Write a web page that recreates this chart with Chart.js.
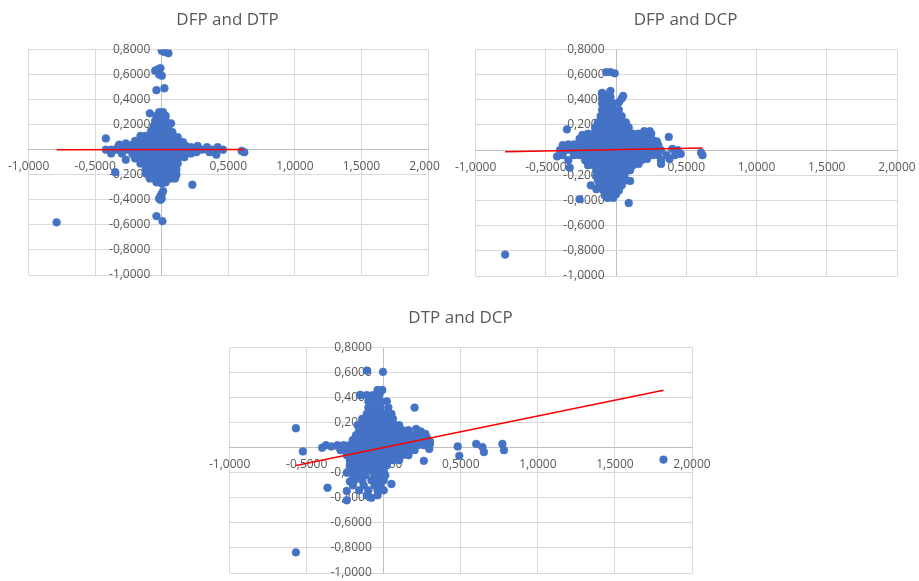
<!DOCTYPE html>
<html>
<head>
<meta charset="utf-8">
<script src="https://cdn.jsdelivr.net/npm/chart.js@4.4.1/dist/chart.umd.min.js"></script>
<style>
  body { margin: 0; background: #fff; width: 919px; height: 581px; position: relative; overflow: hidden; }
  .box { position: absolute; overflow: hidden; }
  canvas { display: block; }
</style>
</head>
<body>
<div class="box" style="left:0;top:0;width:440px;height:295px"><canvas id="c1" width="459" height="295" style="margin-left:-2px"></canvas></div>
<div class="box" style="left:455px;top:0;width:464px;height:296px"><canvas id="c2" width="481" height="296" style="margin-left:-10px"></canvas></div>
<div class="box" style="left:199px;top:300px;width:523px;height:281px"><canvas id="c3" width="523" height="293"></canvas></div>
<script>
const titles = ['DFP and DTP', 'DFP and DCP', 'DTP and DCP'];
const xTicks = [-1, -0.5, 0, 0.5, 1, 1.5, 2];
const yTicks = [-1, -0.8, -0.6, -0.4, -0.2, 0, 0.2, 0.4, 0.6, 0.8];

// DFP (x) vs DTP (y)
const dfpDtp = [
  [-0.79,-0.58],[0.0,0.79],[0.02,0.78],[0.05,0.77],
  [-0.05,0.63],[-0.03,0.64],[-0.01,0.65],[-0.02,0.60],[0.0,0.59],
  [-0.04,0.475],[0.02,0.49],[-0.09,0.29],[-0.42,0.09],[-0.35,-0.18],[0.23,-0.28],
  [0.01,-0.33],[0.0,-0.35],[-0.01,-0.37],[-0.02,-0.39],[-0.01,-0.40],[0.0,-0.39],
  [-0.04,-0.53],[0.005,-0.57],[0.60,-0.01],[0.62,-0.02],
  [-0.27,-0.08],[-0.27,0.05],[0.41,-0.04],
  [-0.02,0.30],[0.01,0.30],
  [-0.04,0.27],[0.0,0.27],[0.03,0.27],
  [-0.05,0.23],[-0.01,0.23],[0.03,0.23],[0.07,0.21],
  [-0.06,0.19],[-0.02,0.19],[0.02,0.19],[0.05,0.18],
  [-0.08,0.15],[-0.04,0.15],[0.0,0.15],[0.04,0.15],[0.08,0.14],
  [-0.16,0.11],[-0.12,0.11],[-0.08,0.11],[-0.04,0.11],[0,0.11],[0.04,0.11],[0.08,0.11],[0.12,0.10],
  [-0.20,0.07],[-0.16,0.07],[-0.12,0.07],[-0.08,0.07],[-0.04,0.07],[0,0.07],[0.04,0.07],[0.08,0.07],[0.12,0.07],[0.16,0.06],
  [-0.32,0.04],[-0.22,0.04],[-0.18,0.035],[-0.14,0.035],[-0.10,0.035],[-0.06,0.035],[-0.02,0.035],[0.02,0.035],
  [0.06,0.035],[0.10,0.035],[0.14,0.035],[0.18,0.03],[0.22,0.02],[0.27,0.03],[0.34,0.02],[0.42,0.02],
  [-0.42,0.0],[-0.38,0.0],[-0.34,0.0],[-0.30,0.0],[-0.26,0.0],[-0.22,0.0],[-0.18,0.0],[-0.14,0.0],[-0.10,0.0],
  [-0.06,0.0],[-0.02,0.0],[0.02,0.0],[0.06,0.0],[0.10,0.0],[0.14,0.0],[0.18,0.0],[0.22,0.0],[0.26,0.0],
  [0.30,0.0],[0.34,0.0],[0.38,0.0],[0.42,0.0],[0.46,0.0],
  [-0.38,-0.03],[-0.30,-0.03],[-0.22,-0.035],[-0.18,-0.035],[-0.14,-0.035],[-0.10,-0.035],[-0.06,-0.035],[-0.02,-0.035],
  [0.02,-0.035],[0.06,-0.035],[0.10,-0.035],[0.14,-0.035],[0.18,-0.03],[0.22,-0.03],[0.26,-0.02],[0.36,-0.02],
  [-0.20,-0.07],[-0.16,-0.07],[-0.12,-0.07],[-0.08,-0.07],[-0.04,-0.07],[0,-0.07],[0.04,-0.07],[0.08,-0.07],[0.12,-0.07],[0.17,-0.06],
  [-0.16,-0.11],[-0.12,-0.11],[-0.08,-0.11],[-0.04,-0.11],[0,-0.11],[0.04,-0.11],[0.08,-0.11],[0.12,-0.11],
  [-0.12,-0.15],[-0.08,-0.15],[-0.04,-0.15],[0,-0.15],[0.04,-0.15],[0.08,-0.15],[0.11,-0.16],
  [-0.12,-0.19],[-0.08,-0.19],[-0.04,-0.19],[0,-0.19],[0.04,-0.19],[0.08,-0.19],[0.11,-0.20],
  [-0.09,-0.23],[-0.05,-0.23],[-0.01,-0.23],[0.03,-0.23],[0.07,-0.23],[0.10,-0.23],
  [-0.04,-0.26],[0.0,-0.27],[0.03,-0.26]
];

// DFP (x) vs DCP (y)
const dfpDcp = [
  [-0.79,-0.83],[-0.07,0.62],[-0.04,0.62],[-0.01,0.61],[-0.26,-0.39],[0.09,-0.42],[-0.35,0.165],
  [0.375,0.105],[0.605,-0.02],[0.615,-0.04],[0.05,0.43],[-0.10,0.455],[-0.04,0.47],[0.20,0.15],[0.24,0.15],
  [-0.42,-0.05],[-0.33,-0.14],[-0.18,-0.28],[-0.14,-0.31],[0.10,-0.245],
  [-0.10,0.45],[-0.07,0.44],
  [-0.10,0.41],[-0.07,0.41],[-0.04,0.42],[0.04,0.41],
  [-0.10,0.37],[-0.06,0.37],[-0.02,0.37],[0.02,0.38],
  [-0.10,0.32],[-0.06,0.32],[-0.02,0.32],[0.02,0.32],
  [-0.11,0.27],[-0.07,0.27],[-0.03,0.27],[0.01,0.27],[0.04,0.27],
  [-0.13,0.22],[-0.09,0.22],[-0.05,0.22],[-0.01,0.22],[0.03,0.22],[0.07,0.22],
  [-0.15,0.18],[-0.11,0.18],[-0.07,0.18],[-0.03,0.18],[0.01,0.18],[0.05,0.18],[0.09,0.18],
  [-0.24,0.12],[-0.20,0.13],[-0.16,0.13],[-0.12,0.13],[-0.08,0.13],[-0.04,0.13],[0,0.13],[0.04,0.13],
  [0.08,0.13],[0.12,0.13],[0.16,0.13],[0.20,0.12],[0.25,0.13],
  [-0.26,0.09],[-0.22,0.09],[-0.18,0.09],[-0.14,0.09],[-0.10,0.09],[-0.06,0.09],[-0.02,0.09],[0.02,0.09],
  [0.06,0.09],[0.10,0.09],[0.14,0.09],[0.18,0.09],[0.22,0.09],[0.26,0.08],[0.29,0.07],
  [-0.38,0.04],[-0.34,0.045],[-0.30,0.045],[-0.26,0.045],[-0.22,0.045],[-0.18,0.045],[-0.14,0.045],[-0.10,0.045],
  [-0.06,0.045],[-0.02,0.045],[0.02,0.045],[0.06,0.045],[0.10,0.045],[0.14,0.045],[0.18,0.045],[0.22,0.045],
  [0.26,0.045],[0.30,0.04],
  [-0.40,0.0],[-0.36,0.0],[-0.32,0.0],[-0.28,0.0],[-0.24,0.0],[-0.20,0.0],[-0.16,0.0],[-0.12,0.0],[-0.08,0.0],
  [-0.04,0.0],[0,0.0],[0.04,0.0],[0.08,0.0],[0.12,0.0],[0.16,0.0],[0.20,0.0],[0.24,0.0],[0.28,0.0],[0.32,0.0],
  [0.40,0.01],[0.44,0.0],
  [-0.38,-0.04],[-0.30,-0.04],[-0.26,-0.04],[-0.22,-0.04],[-0.18,-0.04],[-0.14,-0.04],[-0.10,-0.04],[-0.06,-0.04],
  [-0.02,-0.04],[0.02,-0.04],[0.06,-0.04],[0.10,-0.04],[0.14,-0.04],[0.18,-0.04],[0.22,-0.04],[0.26,-0.04],
  [0.30,-0.04],[0.36,-0.04],[0.42,-0.04],[0.46,-0.03],
  [-0.34,-0.08],[-0.22,-0.08],[-0.18,-0.08],[-0.14,-0.08],[-0.10,-0.08],[-0.06,-0.08],[-0.02,-0.08],[0.02,-0.08],
  [0.06,-0.08],[0.10,-0.08],[0.14,-0.08],[0.18,-0.08],[0.22,-0.07],[0.32,-0.08],[0.38,-0.07],
  [-0.20,-0.12],[-0.16,-0.12],[-0.12,-0.12],[-0.08,-0.12],[-0.04,-0.12],[0,-0.12],[0.04,-0.12],[0.08,-0.12],
  [0.12,-0.12],[0.16,-0.11],[0.32,-0.11],
  [-0.14,-0.16],[-0.10,-0.16],[-0.06,-0.16],[-0.02,-0.16],[0.02,-0.16],[0.06,-0.16],[0.10,-0.16],
  [-0.14,-0.20],[-0.10,-0.20],[-0.06,-0.20],[-0.02,-0.20],[0.02,-0.20],[0.06,-0.20],
  [-0.13,-0.24],[-0.09,-0.24],[-0.05,-0.24],[-0.01,-0.24],[0.03,-0.24],[0.07,-0.24],
  [-0.12,-0.28],[-0.08,-0.28],[-0.04,-0.28],[0,-0.28],[0.04,-0.28],
  [-0.09,-0.32],[-0.05,-0.32],[-0.01,-0.32],[0.02,-0.32],
  [-0.08,-0.36],[-0.04,-0.36],[0.0,-0.35],
  [-0.06,-0.38],[-0.02,-0.38]
];

// DTP (x) vs DCP (y)
const dtpDcp = [
  [-0.57,0.155],[-0.57,-0.835],[-0.525,-0.03],[-0.40,0.0],[-0.375,0.02],[-0.34,0.01],[-0.365,-0.32],
  [-0.24,-0.345],[-0.24,-0.42],[-0.11,0.615],[-0.005,0.605],[0.20,0.32],[0.48,0.01],[0.49,-0.065],
  [0.60,0.03],[0.64,0.005],[0.65,-0.035],[0.77,0.03],[0.78,-0.02],[1.815,-0.095],[0.26,-0.105],
  [0.05,-0.29],[-0.08,-0.40],[0.30,0.03],[0.295,-0.01],[-0.155,0.42],[-0.20,0.06],
  [0.28,0.08],[0.30,0.05],[0.27,0.11],[0.24,0.13],[-0.24,-0.20],[-0.22,-0.27],
  [-0.04,0.46],[-0.01,0.46],
  [-0.15,0.42],[-0.11,0.42],[-0.07,0.42],[-0.03,0.42],
  [-0.10,0.37],[-0.06,0.37],[-0.02,0.37],[0.02,0.37],
  [-0.10,0.32],[-0.06,0.32],[-0.02,0.32],[0.03,0.32],
  [-0.11,0.27],[-0.07,0.27],[-0.03,0.27],[0.01,0.27],[0.05,0.27],
  [-0.14,0.23],[-0.10,0.23],[-0.06,0.23],[-0.02,0.23],[0.02,0.23],[0.06,0.23],
  [-0.17,0.18],[-0.13,0.18],[-0.09,0.18],[-0.05,0.18],[-0.01,0.18],[0.03,0.18],[0.07,0.18],[0.10,0.18],
  [-0.16,0.14],[-0.12,0.14],[-0.08,0.14],[-0.04,0.14],[0,0.14],[0.04,0.14],[0.08,0.14],[0.12,0.14],[0.16,0.14],[0.21,0.15],
  [-0.18,0.10],[-0.14,0.10],[-0.10,0.10],[-0.06,0.10],[-0.02,0.10],[0.02,0.10],[0.06,0.10],[0.10,0.10],
  [0.14,0.10],[0.18,0.10],[0.22,0.10],
  [-0.20,0.06],[-0.16,0.06],[-0.12,0.06],[-0.08,0.06],[-0.04,0.06],[0,0.06],[0.04,0.06],[0.08,0.06],
  [0.12,0.06],[0.16,0.06],[0.20,0.06],[0.25,0.06],
  [-0.30,0.02],[-0.26,0.02],[-0.22,0.02],[-0.18,0.02],[-0.14,0.02],[-0.10,0.02],[-0.06,0.02],[-0.02,0.02],
  [0.02,0.02],[0.06,0.02],[0.10,0.02],[0.14,0.02],[0.18,0.02],[0.22,0.02],[0.26,0.02],
  [-0.28,-0.02],[-0.24,-0.02],[-0.20,-0.02],[-0.16,-0.02],[-0.12,-0.02],[-0.08,-0.02],[-0.04,-0.02],[0,-0.02],
  [0.04,-0.02],[0.08,-0.02],[0.12,-0.02],[0.16,-0.02],[0.20,-0.02],
  [-0.24,-0.06],[-0.20,-0.06],[-0.16,-0.06],[-0.12,-0.06],[-0.08,-0.06],[-0.04,-0.06],[0,-0.06],[0.04,-0.06],
  [0.08,-0.06],[0.12,-0.06],[0.16,-0.06],
  [-0.22,-0.10],[-0.18,-0.10],[-0.14,-0.10],[-0.10,-0.10],[-0.06,-0.10],[-0.02,-0.10],[0.02,-0.10],[0.06,-0.10],[0.10,-0.10],
  [-0.22,-0.14],[-0.18,-0.14],[-0.14,-0.14],[-0.10,-0.14],[-0.06,-0.14],[-0.02,-0.14],[0.02,-0.14],
  [-0.20,-0.18],[-0.16,-0.18],[-0.12,-0.18],[-0.08,-0.18],[-0.04,-0.18],[0,-0.18],
  [-0.20,-0.22],[-0.16,-0.22],[-0.12,-0.22],[-0.06,-0.22],[-0.02,-0.22],[0.01,-0.22],
  [-0.19,-0.26],[-0.14,-0.26],[-0.08,-0.26],[-0.04,-0.26],[0,-0.26],
  [-0.20,-0.30],[-0.13,-0.30],[-0.06,-0.30],[-0.02,-0.30],
  [-0.16,-0.34],[-0.10,-0.34],[-0.04,-0.34],[0.0,-0.34],
  [-0.11,-0.38],[-0.04,-0.38]
];

// linear trend: [slope, intercept]
const trendDfpDtp = [0.001, 0.0];
const trendDfpDcp = [0.0207, 0.0034];
const trendDtpDcp = [0.252, 0.0015];

const blue = '#4472C4';
const tickFont = { family: 'Open Sans', size: 12 };

function fmt(v) {
  return Number(v).toFixed(4).replace('.', ',');
}

function trendLine(points, coef) {
  const xs = points.map(p => p[0]);
  const lo = Math.min(...xs), hi = Math.max(...xs);
  return [{ x: lo, y: coef[0] * lo + coef[1] }, { x: hi, y: coef[0] * hi + coef[1] }];
}

// labelX: where the y labels end (a little left of the x = 0 axis line)
function makeChart(id, title, points, coef, pad, titlePad, labelX) {
  const ctx = document.getElementById(id).getContext('2d');
  return new Chart(ctx, {
    type: 'scatter',
    data: {
      datasets: [{
        data: trendLine(points, coef),
        showLine: true,
        borderColor: '#ff0000',
        borderWidth: 1.5,
        pointRadius: 0,
        order: 0
      }, {
        data: points.map(p => ({ x: p[0], y: p[1] })),
        pointRadius: 3.9,
        pointBackgroundColor: blue,
        pointBorderColor: blue,
        pointBorderWidth: 0.5,
        order: 1
      }]
    },
    options: {
      responsive: false,
      animation: false,
      layout: { padding: pad },
      plugins: {
        legend: { display: false },
        tooltip: { enabled: false },
        title: {
          display: true,
          text: title,
          color: '#595959',
          font: { family: 'Open Sans', size: 17, weight: 'normal', lineHeight: 1.2 },
          padding: titlePad
        }
      },
      scales: {
        x: {
          type: 'linear', min: -1, max: 2,
          position: { y: 0 },
          afterBuildTicks: s => { s.ticks = xTicks.map(v => ({ value: v })); },
          grid: { color: c => (c.tick && c.tick.value === 0 ? '#bfbfbf' : '#d9d9d9'), drawTicks: false },
          border: { color: '#bfbfbf' },
          ticks: { padding: 10, color: '#595959', font: tickFont, maxRotation: 0, autoSkip: false, callback: v => fmt(v) }
        },
        y: {
          type: 'linear', min: -1, max: 0.8,
          position: { x: labelX },
          afterBuildTicks: s => { s.ticks = yTicks.map(v => ({ value: v })); },
          grid: { color: '#d9d9d9', drawTicks: false },
          border: { display: false },
          ticks: { color: '#595959', font: tickFont, autoSkip: false, callback: v => fmt(v) }
        }
      }
    }
  });
}

makeChart('c1', titles[0], dfpDtp, trendDfpDtp, { left: 29, right: 29, top: 0, bottom: 20 }, { top: 10, bottom: 19 }, -0.086);
makeChart('c2', titles[1], dfpDcp, trendDfpDcp, { left: 29, right: 29, top: 0, bottom: 20 }, { top: 10, bottom: 19 }, -0.082);
makeChart('c3', titles[2], dtpDcp, trendDtpDcp, { left: 30, right: 30, top: 0, bottom: 20 }, { top: 8, bottom: 19 }, -0.078);
</script>
</body>
</html>
